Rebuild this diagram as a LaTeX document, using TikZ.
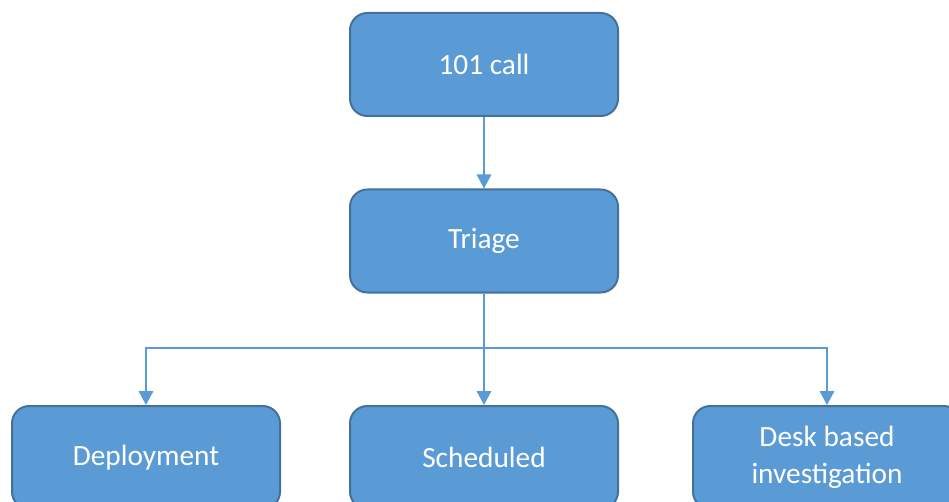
\documentclass[tikz,border=0pt]{standalone}
\usepackage{fontspec}
\setmainfont{Carlito}
\usetikzlibrary{positioning,arrows.meta}

\definecolor{boxfill}{HTML}{5B9BD5}
\definecolor{boxline}{HTML}{41719C}

\begin{document}
\begin{tikzpicture}[x=0.75pt,y=-0.75pt,
                    step box/.style={rectangle,rounded corners=13pt,fill=boxfill,draw=boxline,
                      line width=1.5pt,minimum width=201pt,minimum height=77.25pt,
                      text=white,align=center,font=\fontsize{22}{27.5}\selectfont},
                    link/.style={draw=boxfill,line width=0.9pt,-{Triangle[width=11pt,length=10.5pt]}}
                   ]
  \useasboundingbox (0,0) rectangle (949,502);

  \node[step box] (call)   at (484,64.5)  {101 call};
  \node[step box] (triage) at (484,241)   {Triage};
  \node[step box] (deploy) at (146,457.5) {Deployment};
  \node[step box] (sched)  at (484,457.5) {Scheduled};
  \node[step box] (desk)   at (827,457.5) {Desk based\\investigation};

  % branch point under triage
  \coordinate (split) at (484,348);

  \path[link] (call) -- (triage);
  \path[link] (triage) -- (sched);
  \path[link] (split) -| (deploy);
  \path[link] (split) -| (desk);
\end{tikzpicture}
\end{document}
